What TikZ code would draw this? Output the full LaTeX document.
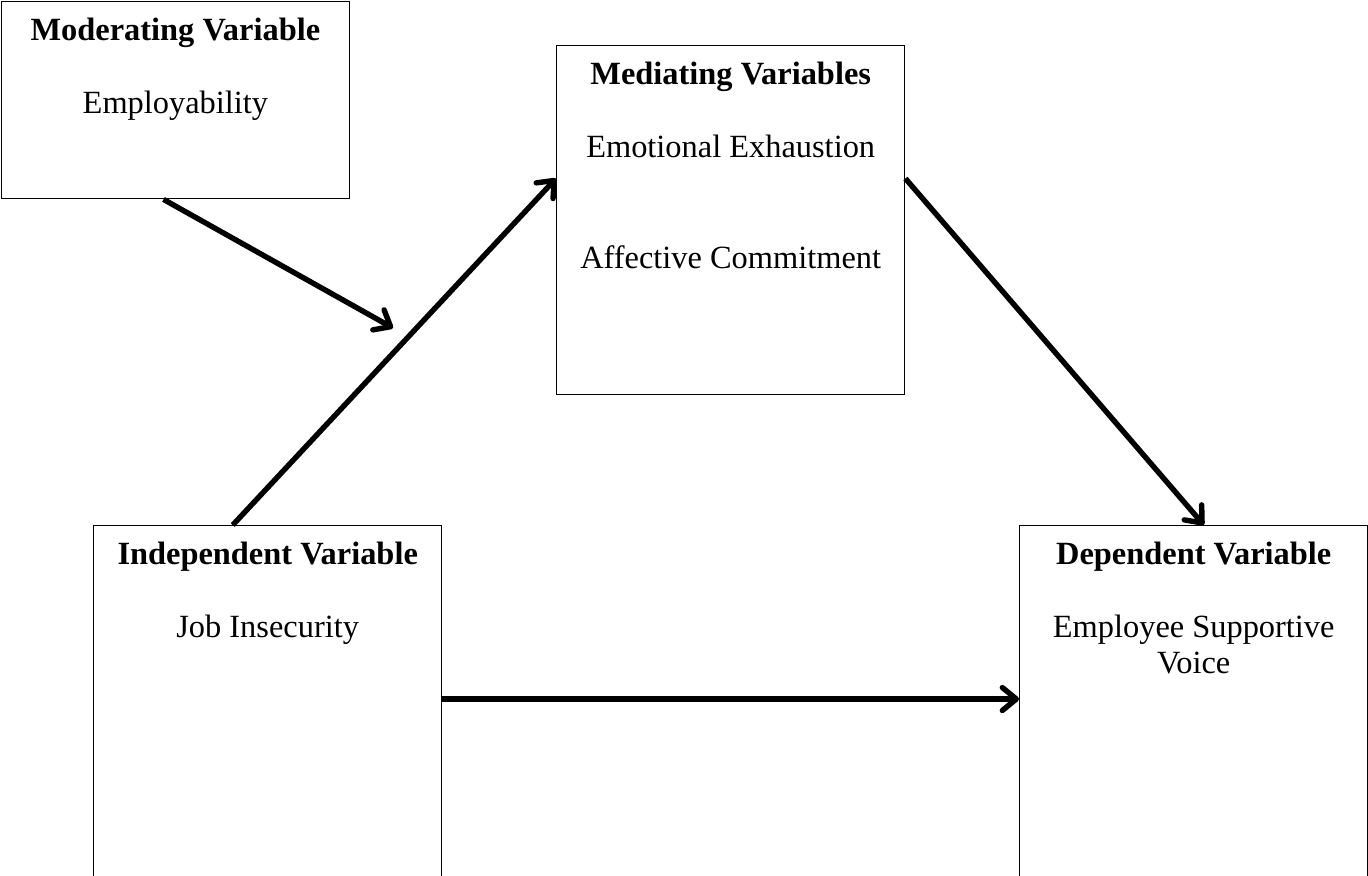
\documentclass[tikz,border=0pt]{standalone}
\usepackage{fontspec}
\setmainfont{Liberation Serif}
\usetikzlibrary{positioning, calc, arrows.meta}
\tikzset{kasten/.style={rectangle,draw,line width=0.7pt,anchor=north west,minimum width=174pt},
	inhalt/.style={align=center,inner sep=0,font=\fontsize{16.2}{18.25}\selectfont},
	pfeil/.style={line width=2.7pt,-{Straight Barb[length=7pt,width=11.5pt,round]}} }

\begin{document}
\begin{tikzpicture}[x=0.5pt,y=-0.5pt]
  \clip (0,0) rectangle (1368,875);

  % boxes, the lower two run past the bottom edge
  \node (mod) [kasten, minimum height=98.5pt] at (0.7,1) {};
  \node (med) [kasten, minimum height=174.5pt] at (556,45) {};
  \node (iv) [kasten, minimum height=200pt] at (93,525) {};
  \node (dv) [kasten, minimum height=200pt] at (1019,525) {};

  \node (modt) [inhalt, below=8.2pt of mod.north] {\textbf{Moderating Variable}\\[18.25pt]Employability};
  \node (medt) [inhalt, below=8.2pt of med.north] {\textbf{Mediating Variables}\\[18.25pt]Emotional Exhaustion\\[37.5pt]Affective Commitment};
  \node (ivt) [inhalt, below=8.2pt of iv.north] {\textbf{Independent Variable}\\[18.25pt]Job Insecurity};
  \node (dvt) [inhalt, below=8.2pt of dv.north] {\textbf{Dependent Variable}\\[18.25pt]Employee Supportive\\Voice};

  \coordinate (ziel) at (393,328);

  \draw [pfeil] ($(mod.south west)!0.466!(mod.south east)$) -- (ziel);
  \draw [pfeil] ($(iv.north west)!0.4!(iv.north east)$) -- ($(med.north west)!0.381!(med.south west)$);
  \draw [pfeil] ($(med.north east)!0.381!(med.south east)$) -- ($(dv.north west)!0.529!(dv.north east)$);
  \draw [pfeil] ($(iv.north east)+(0,174)$) -- ($(dv.north west)+(0,174)$);
\end{tikzpicture}
\end{document}
